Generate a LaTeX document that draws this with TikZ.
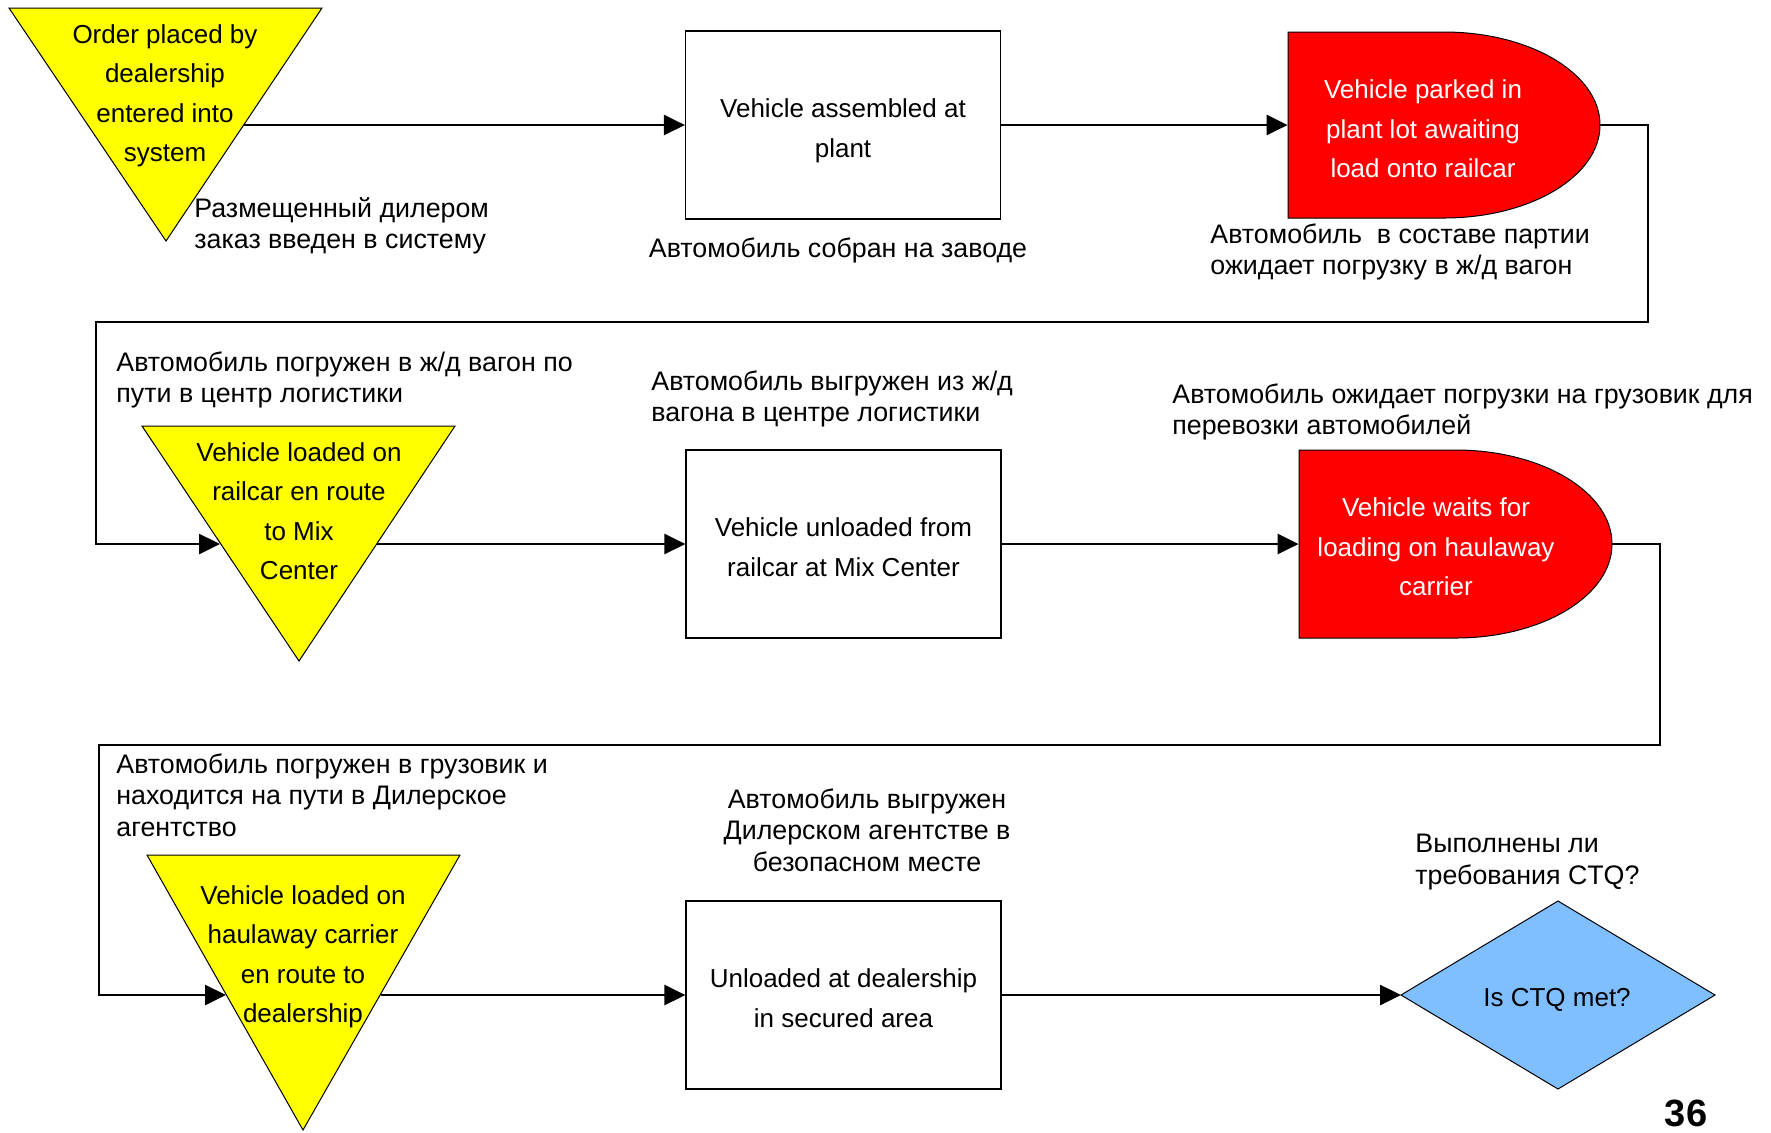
\documentclass[tikz,border=0pt]{standalone}
\usepackage{fontspec}
\setmainfont{Liberation Sans}
\usetikzlibrary{arrows.meta}
\definecolor{yel}{HTML}{FFFF00}
\definecolor{rd}{HTML}{FF0000}
\definecolor{blu}{HTML}{80BFFF}
\tikzset{
  conn/.style={line width=1.3pt,-{Triangle[length=10.5pt,width=10pt]}},
  shapeline/.style={line width=0.5pt,draw=black},
  procbox/.style={draw=black,line width=0.6pt,minimum width=157.5pt,minimum height=94pt,inner sep=0pt},
  intext/.style={align=center,inner sep=0pt,font=\fontsize{13}{19.75}\selectfont},
  rulabel/.style={align=left,inner sep=0pt,font=\fontsize{13.4}{15.75}\selectfont},
  rulabelc/.style={align=center,inner sep=0pt,font=\fontsize{13.4}{15.75}\selectfont},
}
\begin{document}
\begin{tikzpicture}[x=0.5pt,y=-0.5pt]
\useasboundingbox (0,0) rectangle (1771,1132);

% ---------- Row 1 ----------
\filldraw[fill=yel,shapeline] (9,8) -- (322,8) -- (166,241) -- cycle;
\node[intext] (t1) at (165,96) {Order placed by\\dealership\\entered into\\system};
\coordinate (t1out) at (244,125);

\node[procbox] (b1) at (843,125) {};
\node[intext] (b1t) at (843,131) {Vehicle assembled at\\plant};

\filldraw[fill=rd,shapeline] (1288,32) -- (1444,32) .. controls (1530,32) and (1600,73.6) .. (1600,125)
   .. controls (1600,176.4) and (1530,218) .. (1444,218) -- (1288,218) -- cycle;
\node[minimum width=156pt,minimum height=93pt,inner sep=0pt] (r1) at (1444,125) {};
\node[intext,text=white] (r1t) at (1423,129) {Vehicle parked in\\plant lot awaiting\\load onto railcar};

\node[rulabel,anchor=west] (l1) at (194,226) {Размещенный дилером\\заказ введен в систему};
\node[rulabelc] (l2) at (838,250) {Автомобиль собран на заводе};
\node[rulabel,anchor=west] (l3) at (1210,252) {Автомобиль\ \ в составе партии\\ожидает погрузку в ж/д вагон};

\draw[conn] (t1out) -- (b1.west);
\draw[conn] (b1.east) -- (r1.west);

% ---------- Row 2 ----------
\filldraw[fill=yel,shapeline] (142,426) -- (455,426) -- (299,661) -- cycle;
\node[intext] (t2) at (299,511) {Vehicle loaded on\\railcar en route\\to Mix\\Center};
\coordinate (t2in) at (220,544);
\coordinate (t2out) at (377,544);

\node[procbox] (b2) at (843.5,544) {};
\node[intext] (b2t) at (843.5,547) {Vehicle unloaded from\\railcar at Mix Center};

\filldraw[fill=rd,shapeline] (1299,450) -- (1455.5,450) .. controls (1542,450) and (1612,492.1) .. (1612,544)
   .. controls (1612,595.9) and (1542,638) .. (1455.5,638) -- (1299,638) -- cycle;
\node[minimum width=156.5pt,minimum height=94pt,inner sep=0pt] (r2) at (1455.5,544) {};
\node[intext,text=white] (r2t) at (1436,547) {Vehicle waits for\\loading on haulaway\\carrier};

\node[rulabel,anchor=west] (l4) at (116,380) {Автомобиль погружен в ж/д вагон по\\пути в центр логистики};
\node[rulabel,anchor=west] (l5) at (651,399) {Автомобиль выгружен из ж/д\\вагона в центре логистики};
\node[rulabel,anchor=west] (l6) at (1172,412) {Автомобиль ожидает погрузки на грузовик для\\перевозки автомобилей};

\draw[conn] (r1.east) -- (1648,125) -- (1648,322) -- (96,322) |- (t2in);
\draw[conn] (t2out) -- (b2.west);
\draw[conn] (b2.east) -- (r2.west);

% ---------- Row 3 ----------
\filldraw[fill=yel,shapeline] (147,855) -- (460,855) -- (303,1130) -- cycle;
\node[intext] (t3) at (303,957) {Vehicle loaded on\\haulaway carrier\\en route to\\dealership};
\coordinate (t3in) at (226,995);
\coordinate (t3out) at (381,995);

\node[procbox] (b3) at (843.5,995) {};
\node[intext] (b3t) at (843.5,998) {Unloaded at dealership\\in secured area};

\filldraw[fill=blu,shapeline] (1401,995) -- (1558,901) -- (1715,995) -- (1558,1089) -- cycle;
\node[intext] (dm) at (1557,1000) {Is CTQ met?};
\coordinate (dmin) at (1401,995);

\node[rulabel,anchor=west] (l7) at (116,795) {Автомобиль погружен в грузовик и\\находится на пути в Дилерское\\агентство};
\node[rulabelc] (l8) at (867,830) {Автомобиль выгружен\\Дилерском агентстве в\\безопасном месте};
\node[rulabel,anchor=west] (l9) at (1415,862) {Выполнены ли\\требования CTQ?};

\draw[conn] (r2.east) -- (1660,544) -- (1660,745) -- (99,745) |- (t3in);
\draw[conn] (t3out) -- (b3.west);
\draw[conn] (b3.east) -- (dmin);

\node[inner sep=0pt,font=\fontsize{19}{23}\selectfont\bfseries] (pg) at (1686,1113) {36};
\end{tikzpicture}
\end{document}
